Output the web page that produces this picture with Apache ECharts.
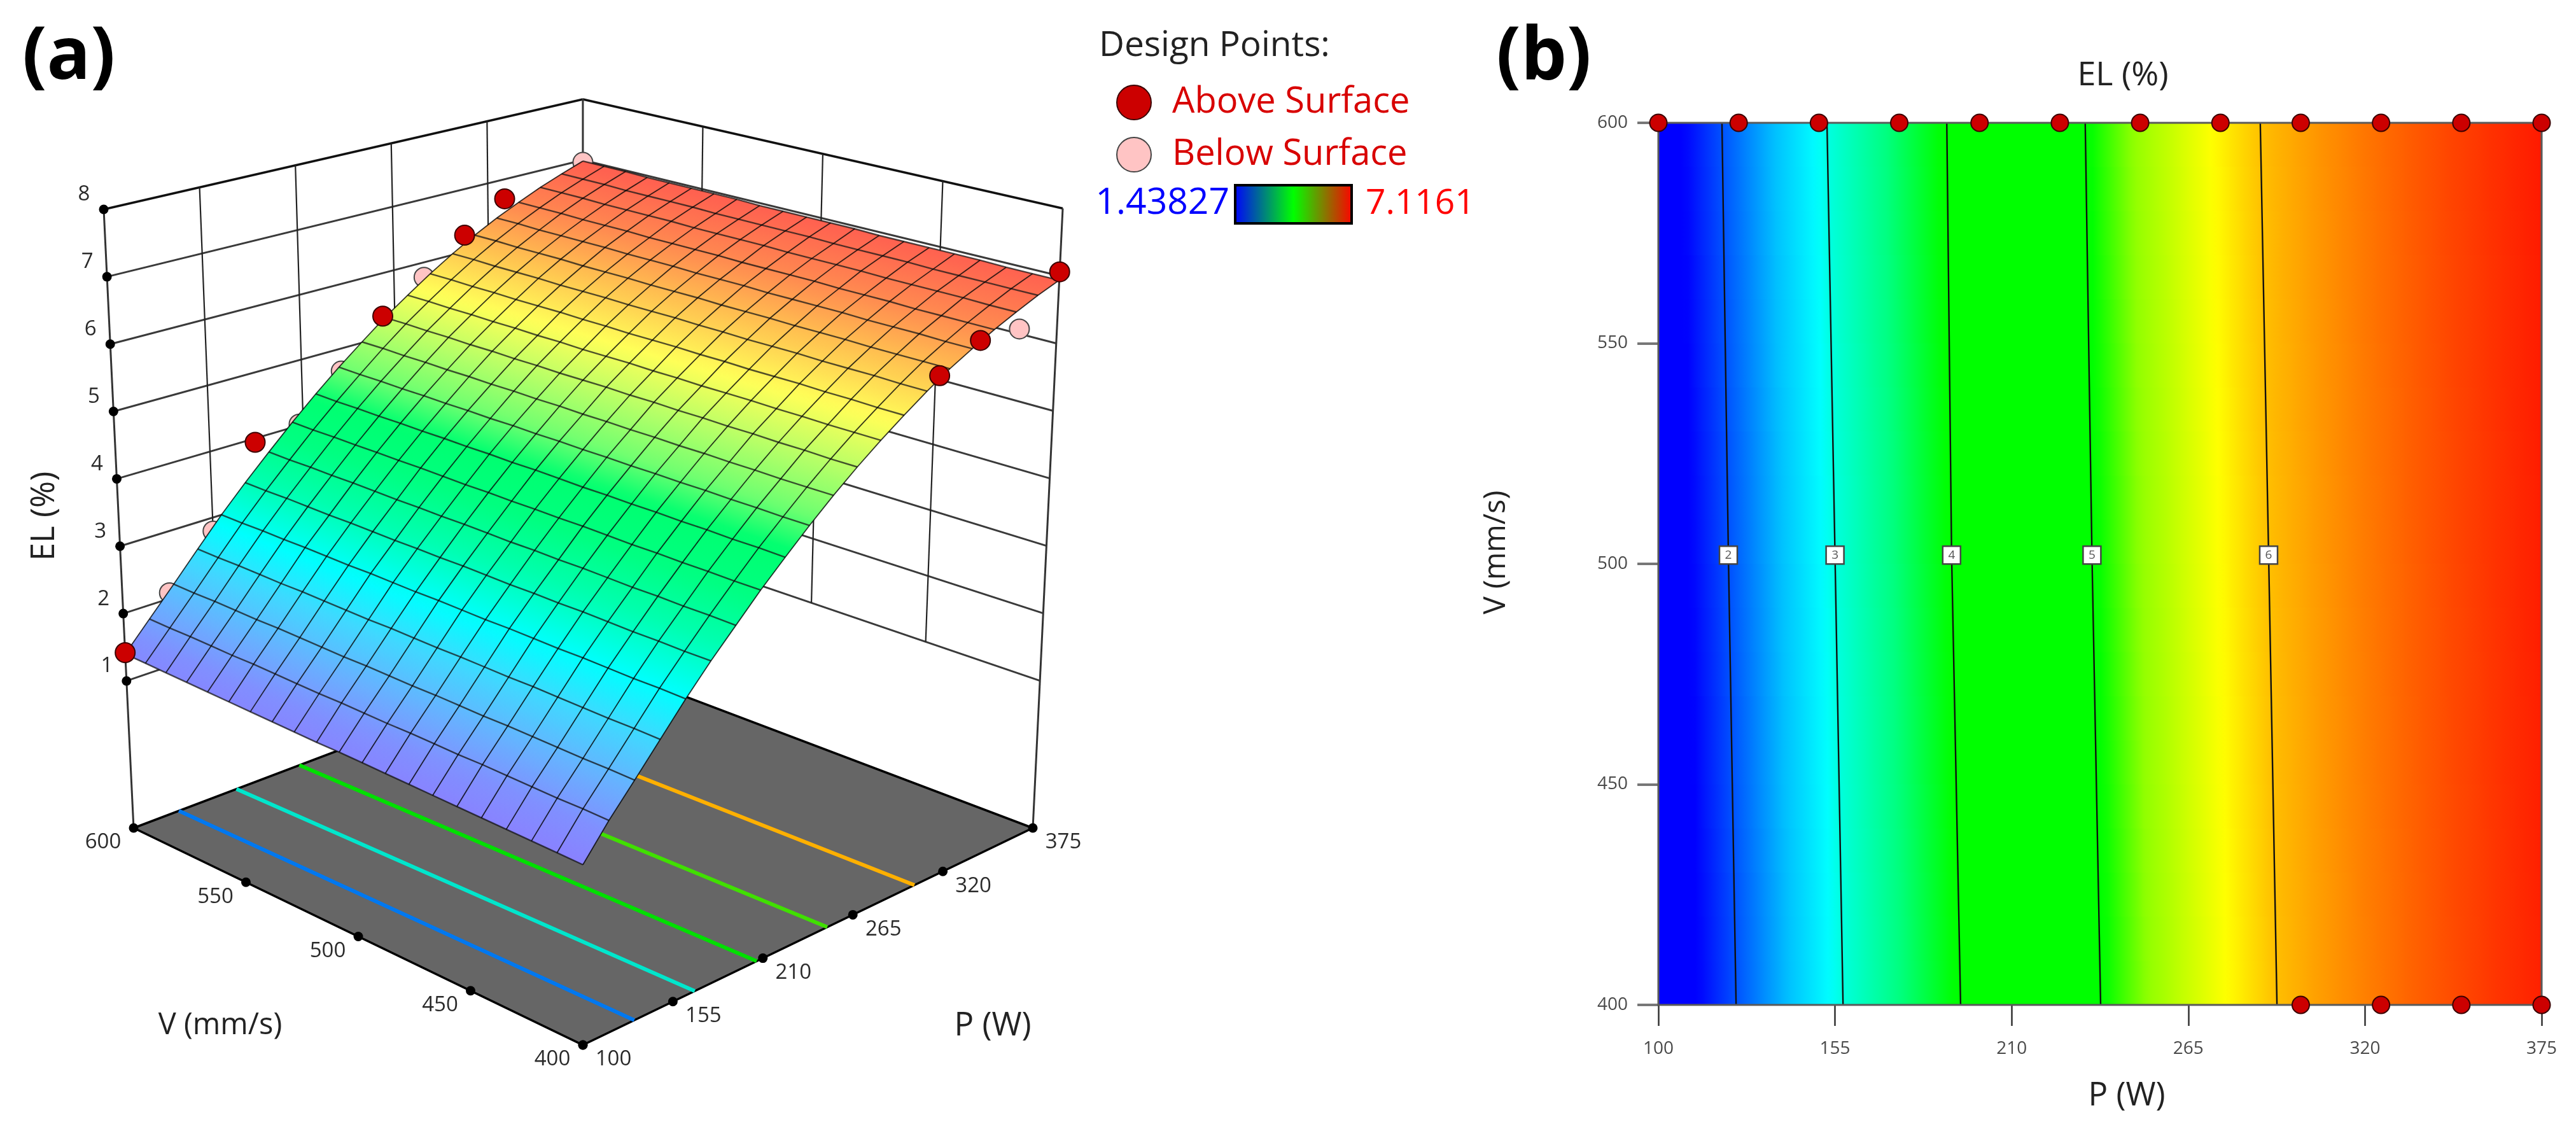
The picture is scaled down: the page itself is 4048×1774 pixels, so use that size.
<!DOCTYPE html>
<html><head><meta charset="utf-8">
<style>html,body{margin:0;padding:0;background:#fff}#c{width:4048px;height:1774px}</style>
<script src="https://cdn.jsdelivr.net/npm/echarts@6/dist/echarts.min.js"></script>
</head><body><div id="c"></div>
<script>
// ---------- values ----------
const pTicks = [100,155,210,265,320,375];
const vTicks = [400,450,500,550,600];
const elTicks = [1,2,3,4,5,6,7,8];
const meshP = [100,113.75,127.5,141.25,155,168.75,182.5,196.25,210,223.75,237.5,251.25,265,278.75,292.5,306.25,320,333.75,347.5,361.25,375];
const meshV = [400,410,420,430,440,450,460,470,480,490,500,510,520,530,540,550,560,570,580,590,600];
// EL (%) on the response surface: one row per meshV, one column per meshP
const elSurface = [
[1.23,1.69,2.10,2.52,2.94,3.33,3.69,4.05,4.38,4.70,5.00,5.28,5.54,5.78,6.01,6.22,6.40,6.57,6.72,6.86,6.98],
[1.24,1.70,2.11,2.53,2.95,3.33,3.70,4.05,4.39,4.70,5.00,5.28,5.54,5.78,6.01,6.22,6.40,6.57,6.72,6.86,6.98],
[1.25,1.70,2.11,2.53,2.95,3.34,3.70,4.06,4.39,4.71,5.00,5.29,5.54,5.79,6.02,6.22,6.41,6.57,6.73,6.86,6.98],
[1.26,1.71,2.12,2.54,2.96,3.34,3.71,4.06,4.40,4.71,5.01,5.29,5.55,5.79,6.02,6.22,6.41,6.57,6.73,6.86,6.99],
[1.27,1.72,2.13,2.55,2.97,3.35,3.71,4.07,4.40,4.72,5.01,5.30,5.55,5.80,6.02,6.23,6.41,6.58,6.73,6.86,6.99],
[1.28,1.73,2.14,2.56,2.97,3.36,3.72,4.07,4.41,4.72,5.02,5.30,5.56,5.80,6.03,6.23,6.42,6.58,6.73,6.87,6.99],
[1.29,1.73,2.14,2.56,2.98,3.36,3.73,4.08,4.41,4.73,5.02,5.31,5.56,5.80,6.03,6.23,6.42,6.58,6.74,6.87,6.99],
[1.30,1.74,2.15,2.57,2.99,3.37,3.73,4.09,4.42,4.73,5.03,5.31,5.56,5.81,6.03,6.24,6.42,6.59,6.74,6.87,6.99],
[1.31,1.75,2.16,2.58,2.99,3.37,3.74,4.09,4.42,4.74,5.03,5.32,5.57,5.81,6.04,6.24,6.42,6.59,6.74,6.87,7.00],
[1.32,1.75,2.16,2.58,3.00,3.38,3.74,4.10,4.43,4.74,5.04,5.32,5.57,5.82,6.04,6.24,6.43,6.59,6.74,6.88,7.00],
[1.33,1.76,2.17,2.59,3.01,3.39,3.75,4.10,4.44,4.75,5.04,5.33,5.58,5.82,6.05,6.25,6.43,6.59,6.75,6.88,7.00],
[1.33,1.77,2.18,2.60,3.01,3.39,3.76,4.11,4.44,4.75,5.05,5.33,5.58,5.82,6.05,6.25,6.43,6.60,6.75,6.88,7.00],
[1.34,1.77,2.18,2.60,3.02,3.40,3.76,4.11,4.45,4.76,5.05,5.33,5.58,5.83,6.05,6.25,6.44,6.60,6.75,6.88,7.00],
[1.35,1.78,2.19,2.61,3.03,3.40,3.77,4.12,4.45,4.76,5.06,5.34,5.59,5.83,6.06,6.26,6.44,6.60,6.75,6.88,7.01],
[1.36,1.79,2.20,2.62,3.03,3.41,3.77,4.13,4.46,4.77,5.06,5.34,5.59,5.84,6.06,6.26,6.44,6.60,6.76,6.89,7.01],
[1.37,1.80,2.21,2.63,3.04,3.42,3.78,4.13,4.46,4.77,5.07,5.35,5.60,5.84,6.06,6.26,6.45,6.61,6.76,6.89,7.01],
[1.38,1.80,2.21,2.63,3.05,3.42,3.79,4.14,4.47,4.78,5.07,5.35,5.60,5.84,6.07,6.27,6.45,6.61,6.76,6.89,7.01],
[1.39,1.81,2.22,2.64,3.05,3.43,3.79,4.14,4.47,4.78,5.08,5.36,5.61,5.85,6.07,6.27,6.45,6.61,6.76,6.89,7.01],
[1.40,1.82,2.23,2.65,3.06,3.44,3.80,4.15,4.48,4.79,5.08,5.36,5.61,5.85,6.07,6.27,6.45,6.62,6.77,6.90,7.02],
[1.41,1.82,2.23,2.65,3.06,3.44,3.80,4.15,4.48,4.79,5.09,5.37,5.62,5.86,6.08,6.28,6.46,6.62,6.77,6.90,7.02],
[1.42,1.83,2.24,2.66,3.07,3.45,3.81,4.16,4.49,4.80,5.09,5.37,5.62,5.86,6.08,6.28,6.46,6.62,6.77,6.90,7.02]
];
// design points [P, V, EL]
const pointsAbove = [[100,600,1.44],[175,600,4.02],[250,600,5.40],[300,600,6.32],[325,600,6.73],[300,400,6.17],[325,400,6.48],[375,400,7.10]];
const pointsBelow = [[125,600,2.13],[150,600,2.86],[200,600,4.10],[225,600,4.73],[275,600,5.83],[350,600,6.60],[375,600,7.00],[350,400,6.46]];
// design points as seen in the contour plot [P, V]
const contourPointsP600 = [100,125,150,175,200,225,250,275,300,325,350,375];
const contourPointsP400 = [300,325,350,375];
// contour levels and where they cross (panel b)
const contourLevels = [2,3,4,5,6];
const contourPAt400 = [124.2,157.5,194.1,237.7,292.6];
const contourPAt502 = [121.8,155,191.3,235,290];
const contourPAt600 = [119.8,152.5,189.8,232.9,287.4];
// contours on the floor of the 3D plot (panel a)
const floorContourPAt400 = [128,162,198,240.6,295.6];
const floorContourPAt600 = [125,157.6,194.3,237,292];
const floorContourColors = ['#0078f0','#00e6cc','#00e000','#40e000','#ffb000'];
// colour ramps: [EL, colour]
const rampContour = [[1.42,'#0000ff'],[1.65,'#0000ff'],[2.0,'#0050ff'],[2.5,'#00c0ff'],[2.9,'#00ffff'],[3.0,'#00ffe0'],[3.5,'#00ff80'],[3.95,'#00ff00'],[5.03,'#00ff00'],[5.3,'#90ff00'],[5.75,'#ffff00'],[6.0,'#ffc000'],[6.5,'#ff7000'],[7.02,'#ff1a00']];
const rampSurface = [[1.2,'#8a80ff'],[1.6,'#8090ff'],[2.0,'#68b0ff'],[2.5,'#40d8ff'],[2.95,'#00ffff'],[3.5,'#00ffb0'],[4.0,'#00ff80'],[4.45,'#00ff70'],[4.8,'#70ff70'],[5.2,'#b0ff68'],[5.7,'#ffff58'],[6.2,'#ffbf50'],[6.6,'#ff8850'],[7.0,'#ff6050']];

// ---------- camera of the 3D plot ----------
const CAM = {g:.13658,h:.13819,i:-.07096,xa:928.67,xb:-676.98,xc:-65.07,xd:916,ya:-163.31,yb:-161.22,yc:-1129.68,yd:1642};
const EL_W0=.2495, EL_W1=.1072, TICK_T0=.2377, TICK_T1=.1089;
function projUVW(u,v,w){const d=1+CAM.g*u+CAM.h*v+CAM.i*w;return [(CAM.xa*u+CAM.xb*v+CAM.xc*w+CAM.xd)/d,(CAM.ya*u+CAM.yb*v+CAM.yc*w+CAM.yd)/d];}
function proj(P,V,EL){return projUVW((P-100)/275,(V-400)/200,EL_W0+EL_W1*(EL-1));}
function projFloor(P,V){return projUVW((P-100)/275,(V-400)/200,0);}
function lerp2(a,b,t){return [a[0]+(b[0]-a[0])*t,a[1]+(b[1]-a[1])*t];}
const FF=projUVW(0,0,0),FL=projUVW(0,1,0),FR=projUVW(1,0,0),FB=projUVW(1,1,0);
const TL=projUVW(0,1,1),TB=projUVW(1,1,1),TR=projUVW(1,0,1);
const tOf=el=>TICK_T0+TICK_T1*(el-1);

// walls
const wallSegs=[];
elTicks.forEach(el=>{const t=tOf(el);const L=lerp2(FL,TL,t),B=lerp2(FB,TB,t),R=lerp2(FR,TR,t);
  const top=el===8;const w=top?3.5:3,c=top?'#111':'#3a3a3a';
  wallSegs.push({a:L,b:B,w,c},{a:B,b:R,w,c});});
const t1=tOf(1);
[.2,.4,.6,.8].forEach(k=>wallSegs.push({a:lerp2(lerp2(FL,TL,t1),lerp2(FB,TB,t1),k),b:lerp2(TL,TB,k),w:2.2,c:'#222'}));
[.25,.5,.75].forEach(k=>wallSegs.push({a:lerp2(lerp2(FB,TB,t1),lerp2(FR,TR,t1),k),b:lerp2(TB,TR,k),w:2.2,c:'#222'}));
wallSegs.push({a:FL,b:TL,w:3,c:'#333'},{a:FB,b:TB,w:3,c:'#333'},{a:FR,b:TR,w:3,c:'#333'});

// colours
function hex(c){return [1,3,5].map(i=>parseInt(c.substr(i,2),16));}
function rampColor(ramp,el){
  if(el<=ramp[0][0])return ramp[0][1];
  for(let k=1;k<ramp.length;k++){if(el<=ramp[k][0]){
    const t=(el-ramp[k-1][0])/(ramp[k][0]-ramp[k-1][0]);const a=hex(ramp[k-1][1]),b=hex(ramp[k][1]);
    return 'rgb('+a.map((v,n)=>Math.round(v+(b[n]-v)*t)).join(',')+')';}}
  return ramp[ramp.length-1][1];
}
function stops(ramp,e0,e1,n){const s=[];for(let k=0;k<=n;k++){s.push({offset:k/n,color:rampColor(ramp,e0+(e1-e0)*k/n)});}return s;}

const cellData=[];
for(let j=0;j<meshV.length-1;j++)for(let i=0;i<meshP.length-1;i++)cellData.push([meshP[i],meshV[j],i,j]);

function renderField(params,api){
  const i=api.value(2),j=api.value(3);
  const a=api.coord([meshP[i],meshV[j]]),b=api.coord([meshP[i+1],meshV[j+1]]);
  const e0=(elSurface[j][i]+elSurface[j+1][i])/2,e1=(elSurface[j][i+1]+elSurface[j+1][i+1])/2;
  return {type:'rect',shape:{x:a[0],y:b[1]-1,width:b[0]-a[0]+1,height:a[1]-b[1]+1},
    style:{fill:new echarts.graphic.LinearGradient(a[0],0,b[0],0,stops(rampContour,e0,e1,6),true)}};
}
function renderCell(params,api){
  const i=api.value(2),j=api.value(3);
  const P=[proj(meshP[i],meshV[j],elSurface[j][i]),proj(meshP[i+1],meshV[j],elSurface[j][i+1]),
           proj(meshP[i+1],meshV[j+1],elSurface[j+1][i+1]),proj(meshP[i],meshV[j+1],elSurface[j+1][i])].map(p=>api.coord(p));
  const m0=lerp2(P[0],P[3],.5),m1=lerp2(P[1],P[2],.5);
  let ex=P[3][0]-P[0][0],ey=P[3][1]-P[0][1];const L=Math.hypot(ex,ey);ex/=L;ey/=L;
  const nx=-ey,ny=ex;const d=(m1[0]-m0[0])*nx+(m1[1]-m0[1])*ny;
  const e0=(elSurface[j][i]+elSurface[j+1][i])/2,e1=(elSurface[j][i+1]+elSurface[j+1][i+1])/2;
  return {type:'polygon',shape:{points:P},style:{fill:new echarts.graphic.LinearGradient(m0[0],m0[1],m0[0]+nx*d,m0[1]+ny*d,stops(rampSurface,e0,e1,4),true),stroke:'rgba(0,0,0,0)'}};
}
const meshLines=[];
meshP.forEach((p,i)=>meshLines.push({pts:meshV.map((v,j)=>proj(p,v,elSurface[j][i])),w:2.4,c:'rgba(15,15,15,.72)'}));
meshV.forEach((v,j)=>meshLines.push({pts:meshP.map((p,i)=>proj(p,v,elSurface[j][i])),w:1.8,c:'rgba(0,0,0,.78)'}));

function plainLabel(size,dx,dy){return {show:true,position:'inside',offset:[dx,dy],fontFamily:'Open Sans',fontSize:size,color:'#2a2a2a'};}
const TF='Open Sans';
function txt(text,x,y,size,fill,extra){return Object.assign({type:'text',x,y,z:20,silent:true,style:{text,fill,font:size+'px "'+TF+'"',align:'center',verticalAlign:'middle'}},extra||{});}

const series=[
  // ---- panel b
  {name:'EL field',type:'custom',xAxisIndex:0,yAxisIndex:0,z:2,silent:true,renderItem:renderField,data:cellData,encode:{x:0,y:1}},
  ...contourLevels.map((lv,k)=>({name:'EL = '+lv,type:'line',xAxisIndex:0,yAxisIndex:0,z:3,silent:true,symbol:'none',clip:false,
     lineStyle:{color:'#101010',width:2.4},data:[[contourPAt400[k],400],[contourPAt502[k],502],[contourPAt600[k],600]]})),
  {name:'Contour labels',type:'scatter',xAxisIndex:0,yAxisIndex:0,z:4,silent:true,symbol:'rect',symbolSize:28,
     itemStyle:{color:'#fff',borderColor:'#444',borderWidth:2.5,opacity:1},
     label:{show:true,position:'inside',fontFamily:TF,fontSize:19,color:'#555',formatter:p=>p.data[2]},
     data:contourLevels.map((lv,k)=>[contourPAt502[k],502,lv])},
  {name:'Design points (b)',type:'scatter',xAxisIndex:0,yAxisIndex:0,z:6,silent:true,clip:false,symbolSize:27,
     itemStyle:{color:'#cc0000',borderColor:'#3a0000',borderWidth:2,opacity:1},
     data:contourPointsP600.map(p=>[p,600]).concat(contourPointsP400.map(p=>[p,400]))},
  // ---- panel a
  {name:'Walls',type:'custom',xAxisIndex:1,yAxisIndex:1,z:1,silent:true,data:wallSegs.map(s=>[s.a[0],s.a[1]]),encode:{x:0,y:1},
     renderItem:(p,api)=>{const s=wallSegs[p.dataIndex],a=api.coord(s.a),b=api.coord(s.b);
       return {type:'line',shape:{x1:a[0],y1:a[1],x2:b[0],y2:b[1]},style:{stroke:s.c,lineWidth:s.w}};}},
  {name:'Floor',type:'custom',xAxisIndex:1,yAxisIndex:1,z:2,silent:true,data:[[FF[0],FF[1]]],encode:{x:0,y:1},
     renderItem:(p,api)=>({type:'polygon',shape:{points:[FF,FR,FB,FL].map(q=>api.coord(q))},style:{fill:'#666666',stroke:'#000',lineWidth:3.5}})},
  ...contourLevels.map((lv,k)=>({name:'Floor EL = '+lv,type:'line',xAxisIndex:1,yAxisIndex:1,z:3,silent:true,symbol:'none',clip:false,
     lineStyle:{color:floorContourColors[k],width:6},data:[projFloor(floorContourPAt400[k],400),projFloor(floorContourPAt600[k],600)]})),
  {name:'Below Surface',type:'scatter',xAxisIndex:1,yAxisIndex:1,z:4,silent:true,clip:false,symbolSize:31,
     itemStyle:{color:'#ffc4c4',borderColor:'#444',borderWidth:2,opacity:1},data:pointsBelow.map(d=>proj(d[0],d[1],d[2]))},
  {name:'Surface',type:'custom',xAxisIndex:1,yAxisIndex:1,z:5,silent:true,renderItem:renderCell,data:cellData.map(c=>[0,0,c[2],c[3]]),encode:{x:0,y:1}},
  {name:'Mesh',type:'custom',xAxisIndex:1,yAxisIndex:1,z:6,silent:true,data:meshLines.map((m,i)=>[0,0,i]),encode:{x:0,y:1},
     renderItem:(p,api)=>{const m=meshLines[p.dataIndex];return {type:'polyline',shape:{points:m.pts.map(q=>api.coord(q))},style:{stroke:m.c,lineWidth:m.w,fill:null}};}},
  {name:'Above Surface',type:'scatter',xAxisIndex:1,yAxisIndex:1,z:7,silent:true,clip:false,symbolSize:31,
     itemStyle:{color:'#cc0000',borderColor:'#3a0000',borderWidth:2,opacity:1},data:pointsAbove.map(d=>proj(d[0],d[1],d[2]))},
  {name:'EL axis',type:'scatter',xAxisIndex:1,yAxisIndex:1,z:3,silent:true,clip:false,symbolSize:15,itemStyle:{color:'#000',opacity:1},
     label:plainLabel(33,-31,-23),data:elTicks.map(el=>({value:lerp2(FL,TL,tOf(el)),label:{formatter:String(el)}}))},
  {name:'P axis',type:'scatter',xAxisIndex:1,yAxisIndex:1,z:3,silent:true,clip:false,symbolSize:15,itemStyle:{color:'#000',opacity:1},
     label:plainLabel(33,48,23),data:pTicks.map((p,k)=>({value:lerp2(FF,FR,k/(pTicks.length-1)),label:{formatter:String(p)}}))},
  {name:'V axis',type:'scatter',xAxisIndex:1,yAxisIndex:1,z:3,silent:true,clip:false,symbolSize:15,itemStyle:{color:'#000',opacity:1},
     label:plainLabel(33,-48,23),data:vTicks.map((v,k)=>({value:lerp2(FF,FL,k/(vTicks.length-1)),label:{formatter:String(v)}}))}
];

const option={
  animation:false,backgroundColor:'#fff',
  title:{text:'EL (%)',left:3331,top:88,textAlign:'center',textStyle:{fontFamily:TF,fontWeight:'normal',fontSize:52,color:'#222'}},
  legend:{data:['Above Surface','Below Surface'],left:1754,top:133,orient:'vertical',itemWidth:54,itemHeight:54,itemGap:26,selectedMode:false,padding:0,
    textStyle:{fontFamily:TF,fontSize:56,color:'#d80000',padding:[0,0,0,28]}},
  grid:[{left:2606,right:54,top:193,bottom:195,containLabel:false},{left:0,right:0,top:0,bottom:0,containLabel:false,show:false}],
  xAxis:[
    {type:'value',gridIndex:0,min:100,max:375,
     splitLine:{show:false},z:3,axisLine:{show:true,lineStyle:{color:'#222',width:2}},
     axisTick:{show:true,length:33,lineStyle:{color:'#333',width:2.5},customValues:pTicks},
     axisLabel:{margin:55,fontFamily:TF,fontSize:28,color:'#4a4a4a',customValues:pTicks,showMinLabel:true,showMaxLabel:true}},
    {type:'value',gridIndex:1,min:0,max:4048,show:false}
  ],
  yAxis:[
    {type:'value',gridIndex:0,min:400,max:600,interval:50,
     splitLine:{show:false},z:3,axisLine:{show:true,lineStyle:{color:'#222',width:2}},
     axisTick:{show:true,length:33,lineStyle:{color:'#777',width:4}},
     axisLabel:{margin:48,fontFamily:TF,fontSize:28,color:'#4a4a4a'}},
    {type:'value',gridIndex:1,min:0,max:1774,inverse:true,show:false}
  ],
  graphic:{elements:[
    {type:'rect',z:4,silent:true,shape:{x:2606,y:193,width:1388,height:1386},style:{fill:null,stroke:'#5a5a5a',lineWidth:3}},
    {type:'text',x:108,y:92,z:20,silent:true,style:{text:'(a)',fill:'#000',font:'bold 114px "Open Sans"',align:'center',verticalAlign:'middle'}},
    {type:'text',x:2426,y:92,z:20,silent:true,style:{text:'(b)',fill:'#000',font:'bold 114px "Open Sans"',align:'center',verticalAlign:'middle'}},
    {type:'text',x:1727,y:72,z:20,silent:true,style:{text:'Design Points:',fill:'#222',font:'55px "Open Sans"',align:'left',verticalAlign:'middle'}},
    {type:'text',x:1932,y:320,z:20,silent:true,style:{text:'1.43827',fill:'#0000ff',font:'57px "Open Sans"',align:'right',verticalAlign:'middle'}},
    {type:'text',x:2146,y:320,z:20,silent:true,style:{text:'7.1161',fill:'#ff0000',font:'55px "Open Sans"',align:'left',verticalAlign:'middle'}},
    {type:'rect',z:20,silent:true,shape:{x:1941,y:291,width:183,height:60},style:{stroke:'#000',lineWidth:4,
      fill:new echarts.graphic.LinearGradient(0,0,1,0,[{offset:0,color:'#0000ff'},{offset:.5,color:'#00ff00'},{offset:1,color:'#ff0000'}])}},
    txt('V (mm/s)',346,1612,47,'#222'),
    txt('P (W)',1560,1612,51,'#222'),
    txt('EL (%)',70,811,51,'#222',{rotation:Math.PI/2}),
    txt('P (W)',3342,1722,51,'#222'),
    txt('V (mm/s)',2352,868,47,'#222',{rotation:Math.PI/2})
  ]},
  series
};
const chart=echarts.init(document.getElementById('c'),null,{renderer:'canvas',width:4048,height:1774});
chart.setOption(option);
</script></body></html>
